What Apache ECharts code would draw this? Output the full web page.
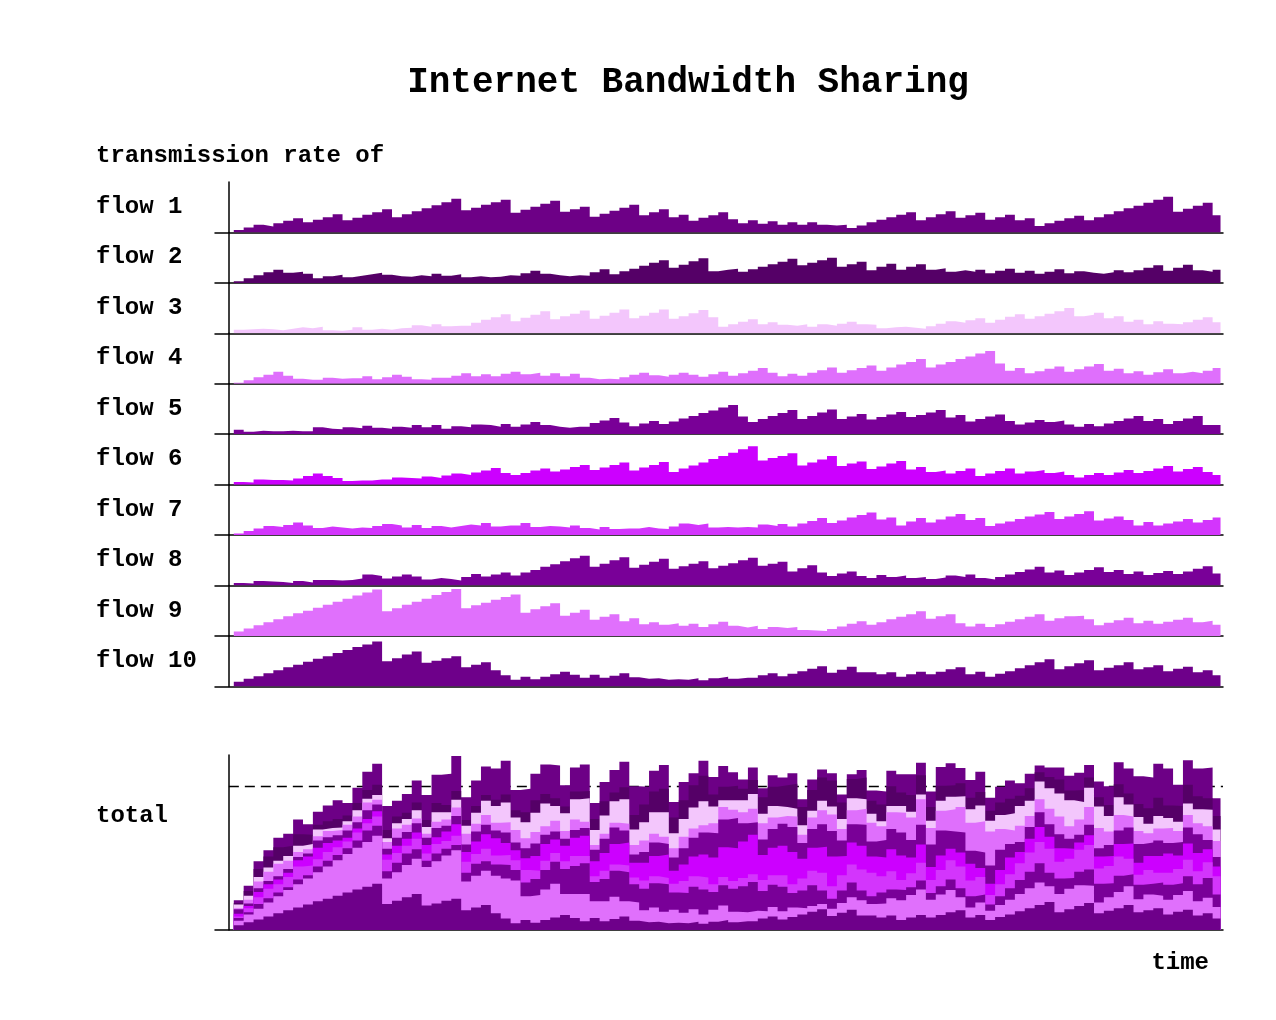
<!DOCTYPE html>
<html><head><meta charset="utf-8">
<script src="https://cdn.jsdelivr.net/npm/echarts@6/dist/echarts.min.js"></script>
<style>html,body{margin:0;padding:0;background:#fff}#c{width:1276px;height:1020px}</style>
</head><body><div id="c"></div>
<script>
// ---- data (transmission rate of each flow, sampled along time) ----
const flowNames = ['flow 1','flow 2','flow 3','flow 4','flow 5','flow 6','flow 7','flow 8','flow 9','flow 10'];
const flow1 = [5,10,15,12,18,23,28,20,25,30, 36,24,29,35,40,46,30,36,42,48, 54,60,67,44,49,55,60,65,39,45, 51,57,63,41,46,51,31,37,43,49, 55,34,40,46,30,35,23,29,34,40, 26,18,24,17,22,15,20,15,20,15, 14,15,9,14,20,25,30,35,40,24, 30,36,42,29,34,39,25,30,35,24, 28,13,18,23,28,33,24,30,36,42, 48,53,59,65,71,41,47,53,59,34];
const flow2 = [3,9,15,21,26,20,22,18,9,13, 16,11,14,17,20,16,13,12,15,13, 18,14,17,11,13,11,12,15,14,19, 24,18,15,13,15,14,21,27,17,23, 28,34,40,45,30,36,43,49,23,26, 28,22,27,32,37,42,48,35,40,45, 50,32,37,42,25,32,38,26,32,37, 26,29,22,25,22,26,19,24,28,20, 24,18,22,27,19,23,20,18,21,25, 21,25,30,35,24,30,36,25,22,26];
const flow3 = [7,8,9,8,6,9,12,10,13,6, 5,7,12,7,9,7,10,11,16,13, 18,14,15,15,21,27,32,38,24,31, 37,44,28,34,39,45,29,35,41,47, 30,35,41,47,29,34,40,46,32,13, 18,23,28,18,22,17,15,18,13,18, 15,19,23,18,17,10,12,13,11,9, 14,19,24,21,26,30,21,27,33,38, 29,34,39,44,50,34,37,41,30,34, 23,27,18,24,19,18,22,27,32,22];
const flow4 = [2,7,13,18,24,16,10,8,8,12, 10,11,11,15,9,13,18,14,9,8, 12,12,16,21,15,19,15,20,24,19, 22,16,21,15,20,12,9,10,9,13, 18,22,17,14,18,22,18,14,19,24, 16,21,26,31,22,15,20,16,22,27, 32,22,27,31,36,26,32,38,43,49, 32,38,43,49,54,60,65,40,26,31, 21,25,30,34,24,29,34,39,26,30, 21,25,18,23,29,21,24,21,26,31];
const flow5 = [9,5,7,6,6,7,6,6,14,11, 10,14,12,17,13,11,15,13,18,14, 18,11,16,14,19,18,15,20,15,19, 24,18,15,13,15,15,22,27,32,23, 16,21,26,20,25,31,36,42,47,53, 58,35,24,30,36,42,48,30,36,43, 49,30,35,40,29,34,39,44,34,38, 43,48,33,38,25,30,35,39,26,19, 23,28,24,27,19,15,20,16,21,26, 31,36,26,30,20,26,31,36,18,18];
const flow6 = [5,4,10,9,9,8,12,17,22,17, 13,7,8,8,10,10,14,13,12,16, 13,18,22,19,24,28,33,23,19,23, 28,32,26,30,35,39,29,34,39,44, 28,34,39,45,25,32,38,44,51,57, 63,70,76,48,53,57,62,38,44,50, 57,37,42,46,31,36,42,47,30,35, 25,28,22,27,32,17,22,27,32,22, 26,29,23,26,19,14,19,23,19,24, 29,23,27,32,37,26,31,35,25,19];
const flow7 = [3,8,13,18,16,20,25,19,14,17, 15,13,15,14,18,22,19,15,20,14, 18,15,18,21,19,24,17,19,19,24, 16,18,17,15,19,14,11,16,12,13, 13,16,13,12,17,23,20,23,15,16, 15,16,15,21,18,22,17,23,28,34, 24,29,35,40,45,31,35,19,27,34, 25,31,37,42,30,34,18,23,27,32, 37,41,46,32,37,42,47,29,33,37, 30,19,26,19,23,27,32,25,30,35];
const flow8 = [5,4,9,8,7,5,9,6,11,11, 10,11,14,22,19,14,18,22,18,12, 15,13,10,17,23,18,22,26,20,26, 31,37,42,48,54,59,37,43,50,56, 35,41,47,53,33,38,43,48,34,39, 44,50,55,39,43,47,28,34,40,26, 19,24,28,19,15,21,17,20,15,17, 13,16,20,17,22,15,12,17,22,27, 32,37,26,30,21,26,31,36,27,31, 23,28,21,25,29,23,28,33,38,24];
const flow9 = [9,15,21,27,33,39,45,50,56,62, 68,74,80,86,92,49,55,62,68,74, 81,87,93,55,61,66,72,77,82,46, 53,59,65,40,46,52,32,38,43,29, 35,23,27,22,25,20,24,18,23,28, 20,17,20,14,18,16,18,12,11,10, 14,19,24,29,22,27,33,38,43,49, 34,39,43,25,19,24,18,23,28,33, 38,43,30,35,39,40,33,21,26,31, 36,25,30,24,28,32,36,27,30,22];
const flow10 = [9,15,20,26,32,38,43,49,55,60, 66,72,78,83,89,50,56,63,69,47, 51,56,60,38,43,48,32,22,13,19, 14,19,24,29,23,17,23,17,21,26, 18,15,16,13,14,13,16,12,16,19, 15,17,17,22,26,20,25,30,35,40, 27,33,39,28,28,24,28,19,24,29, 24,29,34,38,24,29,19,25,30,36, 42,48,54,34,40,46,52,32,37,42, 48,34,38,42,30,35,39,28,32,22];
const capacity = 276;          // dashed line in the total panel
const titleText = 'Internet Bandwidth Sharing';
const yLabel = 'transmission rate of';
const totalLabel = 'total';
const xLabel = 'time';

// ---- styling / layout ----
const colors = ['#6d0086','#550067','#f3c6fc','#df6ffc','#790097','#cc00ff','#d335fc','#790098','#e070fc','#6e008a'];
const flows = [flow1,flow2,flow3,flow4,flow5,flow6,flow7,flow8,flow9,flow10];
const FONT = '"Liberation Mono","Courier New",monospace';
const gLeft = 215, gRight = 53;
const panelTop = 182, panelH = 50.44;
const xMin = -1.9, xMax = 100.05, tEnd = 99.8;
const totalTop = 755, totalH = 175, totalMax = 336;

function pairs(arr) {
  const d = arr.map((v, i) => [i, v]);
  d.push([tEnd, arr[arr.length - 1]]);
  return d;
}
const axisLine = { show: true, onZero: false, lineStyle: { color: '#000', width: 1.5 } };
function xAx(gi) {
  return { gridIndex: gi, type: 'value', min: xMin, max: xMax, axisLine: axisLine,
    axisTick: { show: false }, axisLabel: { show: false }, splitLine: { show: false } };
}
function yAx(gi, max) {
  return { gridIndex: gi, type: 'value', min: 0, max: max, offset: -14, axisLine: axisLine,
    axisTick: { show: false }, axisLabel: { show: false }, splitLine: { show: false } };
}

const grid = [], xAxis = [], yAxis = [], series = [], graphic = [];
flows.forEach((f, k) => {
  grid.push({ left: gLeft, right: gRight, top: panelTop + panelH * k, height: panelH });
  xAxis.push(xAx(k));
  yAxis.push(yAx(k, 100));
  series.push({ type: 'line', name: flowNames[k], xAxisIndex: k, yAxisIndex: k, data: pairs(f),
    step: 'end', showSymbol: false, symbol: 'none', silent: true, animation: false,
    lineStyle: { width: 0 }, areaStyle: { color: colors[k], opacity: 1 }, itemStyle: { color: colors[k] } });
  graphic.push({ type: 'text', x: 96, y: panelTop + panelH * k + 25,
    style: { text: flowNames[k], font: 'bold 24px ' + FONT, fill: '#000', textVerticalAlign: 'middle' } });
});

// ---- total panel: cumulative sums (flow 10 at the bottom, flow 1 on top) ----
const T = 10;
grid.push({ left: gLeft, right: gRight, top: totalTop, height: totalH });
xAxis.push(xAx(T));
yAxis.push(yAx(T, totalMax));
// cum[k] = flow k + flow k+1 + ... + flow 10 (top edge of layer k)
const cum = [];
for (let k = 9; k >= 0; k--) {
  cum[k] = flows[k].map((v, i) => v + (k < 9 ? cum[k + 1][i] : 0));
}
// draw the highest layer first so lower layers are painted over it
for (let k = 0; k <= 9; k++) {
  const s = { type: 'line', name: flowNames[k] + ' (total)', xAxisIndex: T, yAxisIndex: T,
    data: pairs(cum[k]), step: 'end', showSymbol: false, symbol: 'none', silent: true, animation: false, z: 3,
    lineStyle: { width: 0 }, areaStyle: { color: colors[k], opacity: 1, origin: 'start' }, itemStyle: { color: colors[k] } };
  if (k === 0) {
    s.markLine = { silent: true, symbol: 'none', z: 1, animation: false, label: { show: false },
      lineStyle: { color: '#000', width: 1.3, type: [10, 6] },
      data: [[{ coord: [-0.5, capacity] }, { coord: [xMax, capacity] }]] };
  }
  series.push(s);
}
graphic.push({ type: 'text', x: 688, y: 83, style: { text: titleText, font: 'bold 36px ' + FONT, fill: '#000', textAlign: 'center', textVerticalAlign: 'middle' } });
graphic.push({ type: 'text', x: 96, y: 156, style: { text: yLabel, font: 'bold 24px ' + FONT, fill: '#000', textVerticalAlign: 'middle' } });
graphic.push({ type: 'text', x: 96, y: 816, style: { text: totalLabel, font: 'bold 24px ' + FONT, fill: '#000', textVerticalAlign: 'middle' } });
graphic.push({ type: 'text', x: 1209, y: 963, style: { text: xLabel, font: 'bold 24px ' + FONT, fill: '#000', textAlign: 'right', textVerticalAlign: 'middle' } });

const chart = echarts.init(document.getElementById('c'), null, { renderer: 'canvas' });
chart.setOption({ backgroundColor: '#fff', animation: false, grid, xAxis, yAxis, series, graphic });
</script>
</body></html>
